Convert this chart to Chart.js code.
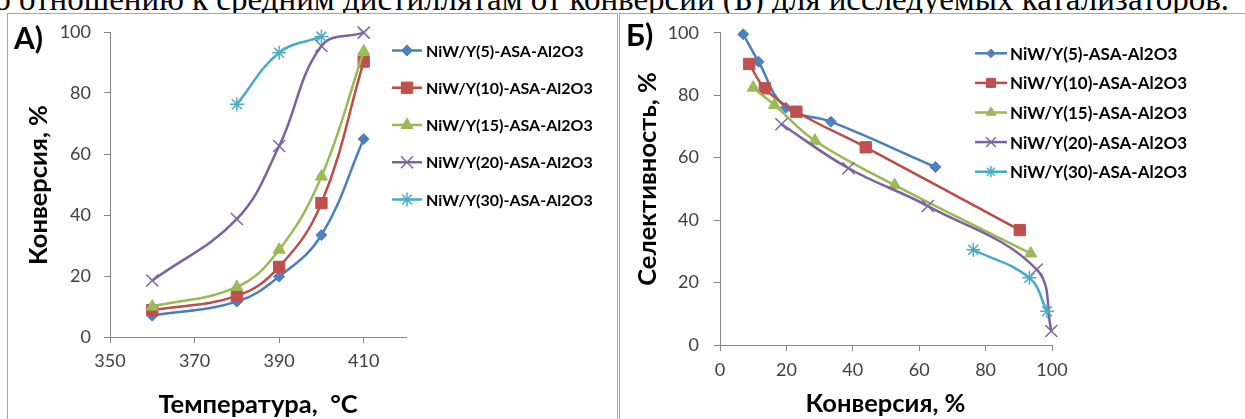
<!DOCTYPE html>
<html>
<head>
<meta charset="utf-8">
<script src="https://cdn.jsdelivr.net/npm/chart.js@4.4.1/dist/chart.umd.min.js"></script>
<style>
html, body { margin: 0; padding: 0; background: #fff; overflow: hidden; }
#page { position: relative; width: 1245px; height: 419px; overflow: hidden; font-family: Lato, sans-serif; }
#caption { position: absolute; right: 16px; top: -17px; font: 33px/33px "Liberation Serif", serif; white-space: nowrap; color: #000; }
.panel { position: absolute; background: #fff; border: 1px solid #a6a6a6; }
#panelA { left: 7px; top: 13px; width: 609px; height: 420px; }
#panelB { left: 619px; top: 13px; width: 640px; height: 420px; }
.panel canvas { position: absolute; left: 0; top: 0; }
.lbl { position: absolute; font-family: Lato, sans-serif; font-weight: bold; color: #000; white-space: nowrap; }
.big { font-size: 30px; line-height: 30px; }
.ttl { font-size: 25.5px; line-height: 25.5px; }
.rot { transform: translate(-50%, -50%) rotate(-90deg); }
.hc { transform: translateX(-50%); }
</style>
</head>
<body>
<div id="page">
  <div id="caption">по отношению к средним дистиллятам от конверсии (Б) для исследуемых катализаторов.</div>
  <div class="panel" id="panelA"><canvas id="chartA" width="609" height="405"></canvas></div>
  <div class="panel" id="panelB"><canvas id="chartB" width="625" height="405"></canvas></div>

  <div class="lbl big" style="left:14px; top:22px;">А)</div>
  <div class="lbl big" style="left:626px; top:19px;">Б)</div>
  <div class="lbl ttl rot" style="left:37.5px; top:185px;">Конверсия, %</div>
  <div class="lbl ttl hc" style="left:258px; top:391px;">Температура,&nbsp; °C</div>
  <div class="lbl ttl rot" style="left:646.5px; top:179px;">Селективность, %</div>
  <div class="lbl ttl hc" style="left:885.5px; top:389.5px;">Конверсия, %</div>
</div>

<script>
// data
const temperatures = [360, 380, 390, 400, 410];
const catalysts = ['NiW/Y(5)-ASA-Al2O3', 'NiW/Y(10)-ASA-Al2O3', 'NiW/Y(15)-ASA-Al2O3', 'NiW/Y(20)-ASA-Al2O3', 'NiW/Y(30)-ASA-Al2O3'];

// conversion, % (panel A) - null where there is no point
const convY5 = [7.0, 11.6, 19.8, 33.4, 64.9];
const convY10 = [8.8, 13.5, 23.0, 43.9, 90.3];
const convY15 = [10.0, 16.4, 28.6, 52.6, 93.6];
const convY20 = [18.5, 38.7, 62.6, 95.4, 99.8];
const convY30 = [null, 76.3, 93.2, 98.5, null];

// selectivity, % (panel B)
const selY5 = [99.5, 90.7, 76.0, 71.5, 57.0];
const selY10 = [90.0, 82.2, 74.7, 63.3, 36.8];
const selY15 = [82.4, 76.8, 65.4, 51.2, 29.3];
const selY20 = [70.7, 56.6, 44.5, 24.2, 4.5];
const selY30 = [null, 30.5, 21.5, 10.8, null];

const tempTicks = [350, 370, 390, 410];
const pctTicks = [0, 20, 40, 60, 80, 100];

const convAll = [convY5, convY10, convY15, convY20, convY30];
const selAll = [selY5, selY10, selY15, selY20, selY30];

const styles = [
    { line: '#4A7EBB', fill: '#4F81BD', point: 'rectRot', r: 5.5, bw: 1 },
    { line: '#BE4B48', fill: '#C0504D', point: 'rect', r: 8, bw: 1 },
    { line: '#98B954', fill: '#9BBB59', point: 'triangle', r: 7, bw: 1 },
    { line: '#7D60A0', fill: '#8064A2', point: 'crossRot', r: 8.5, bw: 1.5 },
    { line: '#46AAC5', fill: '#4BACC6', point: 'star', r: 7, bw: 1.5 }
];

function makePoints(xs, ys) {
    return xs.map((x, i) => ({ x: x, y: ys[i] }))
        .filter(p => p.x != null && p.y != null);
}

function makeDatasets(xsFor, ysAll) {
    return catalysts.map((name, i) => {
        const s = styles[i];
        return {
            label: name,
            data: makePoints(xsFor(i), ysAll[i]),
            borderColor: s.line,
            borderWidth: 2.5,
            backgroundColor: s.fill,
            pointStyle: s.point,
            pointRadius: s.r,
            pointHoverRadius: s.r,
            pointBackgroundColor: s.fill,
            pointBorderColor: s.fill,
            pointBorderWidth: s.bw,
            tension: 0.4,
            fill: false,
            clip: false,
            order: catalysts.length - i
        };
    });
}

// legend drawn by hand so it can sit where Excel put it
const sideLegend = {
    id: 'sideLegend',
    afterDraw(chart, args, opts) {
        const ctx = chart.ctx;
        ctx.save();
        chart.data.datasets.forEach((ds, i) => {
            const y = opts.top + i * opts.step;
            ctx.strokeStyle = ds.borderColor;
            ctx.lineWidth = ds.borderWidth;
            ctx.beginPath();
            ctx.moveTo(opts.x, y);
            ctx.lineTo(opts.x + opts.len, y);
            ctx.stroke();
            ctx.fillStyle = ds.pointBackgroundColor;
            ctx.strokeStyle = ds.pointBorderColor;
            ctx.lineWidth = ds.pointBorderWidth;
            Chart.helpers.drawPoint(ctx, {
                pointStyle: ds.pointStyle,
                radius: ds.pointRadius * opts.scale,
                borderWidth: ds.pointBorderWidth,
                rotation: 0
            }, opts.x + opts.len / 2, y);
            ctx.fillStyle = '#000';
            ctx.font = opts.font;
            ctx.textBaseline = 'middle';
            ctx.textAlign = 'left';
            ctx.fillText(ds.label, opts.x + opts.len + opts.gap, y + 1);
        });
        ctx.restore();
    }
};

function axis(min, max, ticks, fit, tickPad) {
    return {
        type: 'linear',
        min: min,
        max: max,
        afterBuildTicks: s => { s.ticks = ticks.map(v => ({ value: v })); },
        afterFit: s => {
            fit(s);
            // keep tick label overflow from pushing the plot area around
            s.paddingTop = 0;
            s.paddingBottom = 0;
            s.paddingLeft = 0;
            s.paddingRight = 0;
        },
        grid: { display: true, drawOnChartArea: false, drawTicks: true, tickLength: 6, color: '#868686' },
        border: { display: true, color: '#868686', width: 1 },
        ticks: {
            color: '#404040',
            font: { family: 'Lato', size: 18 },
            padding: tickPad,
            maxRotation: 0,
            minRotation: 0,
            autoSkip: false
        }
    };
}

function makeOptions(c) {
    return {
        responsive: false,
        animation: false,
        devicePixelRatio: 1,
        layout: { autoPadding: false, padding: { top: c.padTop, right: c.padRight, left: 0, bottom: 0 } },
        plugins: {
            legend: { display: false },
            tooltip: { enabled: false },
            sideLegend: c.legend
        },
        scales: {
            x: axis(c.xMin, c.xMax, c.xTicks, s => { s.height = c.xHeight; }, c.xPad),
            y: axis(0, 100, pctTicks, s => { s.width = c.yWidth; }, c.yPad)
        }
    };
}

new Chart(document.getElementById('chartA'), {
    type: 'line',
    data: { datasets: makeDatasets(() => temperatures, convAll) },
    options: makeOptions({
        xMin: 350, xMax: 420, xTicks: tempTicks,
        padTop: 18, padRight: 211, xHeight: 82, yWidth: 102, xPad: 7, yPad: 13,
        legend: { x: 384, len: 30, gap: 4, top: 36.5, step: 37.25, scale: 1, font: 'bold 16px Lato' }
    }),
    plugins: [sideLegend]
});

new Chart(document.getElementById('chartB'), {
    type: 'line',
    data: { datasets: makeDatasets(i => convAll[i], selAll) },
    options: makeOptions({
        xMin: 0, xMax: 100, xTicks: pctTicks,
        padTop: 18.7, padRight: 193, xHeight: 74, yWidth: 100, xPad: 8, yPad: 15,
        legend: { x: 355, len: 32, gap: 3, top: 39.3, step: 29.6, scale: 0.8, font: 'bold 17px Lato' }
    }),
    plugins: [sideLegend]
});
</script>
</body>
</html>
